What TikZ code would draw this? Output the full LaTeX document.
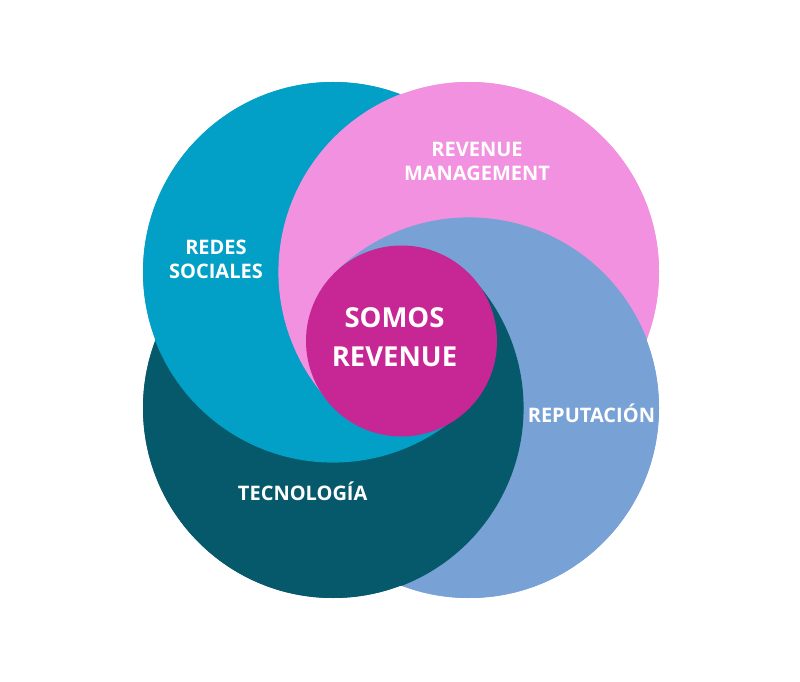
\documentclass[tikz,border=0pt]{standalone}
\usepackage{fontspec}
\usetikzlibrary{calc}
\setmainfont{Open Sans}
\definecolor{cRedes}{HTML}{02A0C6}
\definecolor{cRevenue}{HTML}{F191E0}
\definecolor{cReput}{HTML}{78A1D6}
\definecolor{cTecno}{HTML}{06596B}
\definecolor{cSomos}{HTML}{C72695}
\begin{document}
\begin{tikzpicture}[x=1pt,y=1pt,
  lbl/.style={text=white, font=\bfseries\fontsize{20}{24}\selectfont, align=center, inner sep=0pt},
  biglbl/.style={text=white, font=\bfseries\fontsize{27.5}{38.5}\selectfont, align=center, inner sep=0pt},
  seam/.style={line width=1.2pt}]
\useasboundingbox (0,0) rectangle (800,681);
\fill[white] (0,0) rectangle (800,681);
\def\R{190}
\coordinate (cR) at (333,409);
\coordinate (cM) at (469,409);
\coordinate (cP) at (469,273);
\coordinate (cT) at (333,273);
\coordinate (O) at (401,341);
% base fills
\fill[cRedes] (cR) circle (\R);
\fill[cRevenue] (cM) circle (\R);
\fill[cReput] (cP) circle (\R);
\fill[cTecno] (cT) circle (\R);
% crescents: each circle minus the one that covers it
\begin{scope}\clip (cR) circle (\R);
  \fill[cRedes, even odd rule] (-10,-10) rectangle (810,691) (cM) circle (\R);\end{scope}
\begin{scope}\clip (cM) circle (\R);
  \fill[cRevenue, even odd rule] (-10,-10) rectangle (810,691) (cP) circle (\R);\end{scope}
\begin{scope}\clip (cP) circle (\R);
  \fill[cReput, even odd rule] (-10,-10) rectangle (810,691) (cT) circle (\R);\end{scope}
\begin{scope}\clip (cT) circle (\R);
  \fill[cTecno, even odd rule] (-10,-10) rectangle (810,691) (cR) circle (\R);\end{scope}
% common part of all four circles, split into quadrants
\begin{scope}
  \clip (cR) circle (\R);
  \clip (cM) circle (\R);
  \clip (cP) circle (\R);
  \clip (cT) circle (\R);
  \fill[cRedes] (O) -- ++(-300,-300) -- ++(600,0) -- cycle;
  \fill[cRevenue] (O) -- ++(-300,300) -- ++(0,-600) -- cycle;
  \fill[cReput] (O) -- ++(-300,300) -- ++(600,0) -- cycle;
  \fill[cTecno] (O) -- ++(300,300) -- ++(0,-600) -- cycle;
\end{scope}
% front edges, to hide antialiasing seams
\draw[seam, cRevenue] ($(cM)+(111:\R)$) arc[start angle=111, end angle=225, radius=\R];
\draw[seam, cReput] ($(cP)+(21:\R)$) arc[start angle=21, end angle=135, radius=\R];
\draw[seam, cTecno] ($(cT)+(-69:\R)$) arc[start angle=-69, end angle=45, radius=\R];
\draw[seam, cRedes] ($(cR)+(-159:\R)$) arc[start angle=-159, end angle=-45, radius=\R];
\draw[seam, cRevenue] ($(cP)+(159:\R)$) arc[start angle=159, end angle=135, radius=\R];
\draw[seam, cReput] ($(cT)+(69:\R)$) arc[start angle=69, end angle=45, radius=\R];
\draw[seam, cTecno] ($(cR)+(-21:\R)$) arc[start angle=-21, end angle=-45, radius=\R];
\draw[seam, cRedes] ($(cM)+(249:\R)$) arc[start angle=249, end angle=225, radius=\R];
% centre circle
\node[circle, fill=cSomos, minimum size=191pt, inner sep=0pt] (somos) at (401.5,340) {};
\node[biglbl] (somostxt) at (394.5,343.7) {SOMOS\\REVENUE};
% labels
\node[lbl] (redes) at (216,421.8) {REDES\\SOCIALES};
\node[lbl] (revman) at (477,520) {REVENUE\\MANAGEMENT};
\node[lbl, anchor=base] (reput) at (591.4,258.7) {REPUTACIÓN};
\node[lbl, anchor=base] (tecno) at (302.7,180.3) {TECNOLOGÍA};
\end{tikzpicture}
\end{document}
